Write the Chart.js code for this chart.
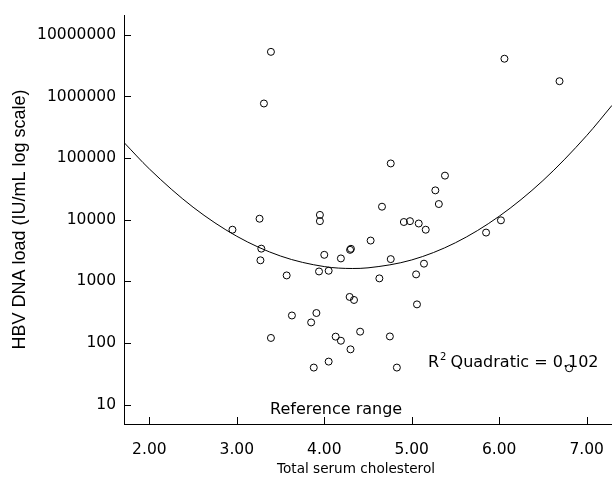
<!DOCTYPE html>
<html>
<head>
<meta charset="utf-8">
<script src="https://cdn.jsdelivr.net/npm/chart.js@4.4.1/dist/chart.umd.min.js"></script>
<style>
  html, body { margin: 0; padding: 0; background: #fff; }
  #wrap { width: 612px; height: 481px; }
</style>
</head>
<body>
<div id="wrap"><canvas id="chart" width="612" height="481"></canvas></div>
<script>
// one entry per patient: total serum cholesterol and HBV DNA load (IU/mL)
var cholesterol = [3.39, 3.31, 6.06, 6.69, 4.76, 5.38, 5.27, 5.31, 4.66, 2.95,
                   3.26, 3.95, 3.95, 3.28, 3.27, 3.57, 4.00, 4.19, 4.295, 4.305,
                   3.94, 4.05, 4.29, 4.34, 3.63, 3.91, 3.85, 3.39, 4.13, 4.19,
                   4.30, 4.05, 3.88, 4.91, 4.98, 5.08, 5.16, 6.02, 5.85, 4.53,
                   4.76, 5.14, 4.63, 5.05, 5.06, 4.41, 4.75, 4.83, 6.80];
var dnaLoad = [5300000, 770000, 4100000, 1770000, 82000, 52000, 30000, 18000, 16300, 6900,
               10400, 12000, 9500, 3400, 2200, 1250, 2700, 2360, 3250, 3380,
               1450, 1490, 560, 500, 280, 307, 216, 121, 127, 109,
               79, 50, 40, 9200, 9500, 8700, 6900, 9800, 6200, 4600,
               2300, 1940, 1120, 1300, 424, 153, 128, 40, 39];

// quadratic fit curve
var fitX = [1.71, 2.0, 2.5, 3.0, 3.5, 4.0, 4.32, 4.5, 5.0, 5.5, 6.0, 6.5, 7.0, 7.29];
var fitY = [179500, 66800, 16000, 5400, 2580, 1740, 1620, 1660, 2230, 4240, 11400, 43200, 231700, 718000];

var xTicks = [2, 3, 4, 5, 6, 7];
var yTicks = [10, 100, 1000, 10000, 100000, 1000000, 10000000];

var xTitle = 'Total serum cholesterol';
var yTitle = 'HBV DNA load (IU/mL log scale)';
var refLabel = 'Reference range';
var fitLabel = ['R', '2', ' Quadratic = 0.102'];

var points = cholesterol.map(function (c, i) { return {x: c, y: dnaLoad[i]}; });
var curve = fitX.map(function (c, i) { return {x: c, y: fitY[i]}; });

// tick marks drawn pointing into the plot, like the original
var innerTicks = {
    id: 'innerTicks',
    afterDraw: function (chart) {
        var ctx = chart.ctx, area = chart.chartArea;
        var xs = chart.scales.x, ys = chart.scales.y;
        ctx.save();
        ctx.strokeStyle = '#000';
        ctx.lineWidth = 1;
        ctx.beginPath();
        xs.ticks.forEach(function (t) {
            var px = Math.round(xs.getPixelForValue(t.value)) + 0.5;
            ctx.moveTo(px, area.bottom);
            ctx.lineTo(px, area.bottom - 7);
        });
        ys.ticks.forEach(function (t) {
            var py = Math.round(ys.getPixelForValue(t.value)) + 0.5;
            ctx.moveTo(area.left, py);
            ctx.lineTo(area.left + 7, py);
        });
        ctx.stroke();
        ctx.restore();
    }
};

// text notes: x title, reference range, R squared
var notes = {
    id: 'notes',
    afterDraw: function (chart) {
        var ctx = chart.ctx, area = chart.chartArea;
        ctx.save();
        ctx.fillStyle = '#000';
        ctx.textBaseline = 'alphabetic';
        ctx.textAlign = 'left';

        ctx.font = '16px "DejaVu Sans"';
        ctx.fillText(refLabel, area.left + 146, area.bottom - 10);

        var x = area.left + 304, y = area.bottom - 57;
        ctx.fillText(fitLabel[0], x, y);
        x += ctx.measureText(fitLabel[0]).width + 1;
        ctx.font = '10px "DejaVu Sans"';
        ctx.fillText(fitLabel[1], x, y - 7);
        x += ctx.measureText(fitLabel[1]).width - 1;
        ctx.font = '16px "DejaVu Sans"';
        ctx.fillText(fitLabel[2], x, y);

        ctx.font = '13.6px "DejaVu Sans"';
        ctx.textAlign = 'center';
        ctx.textBaseline = 'middle';
        ctx.fillText(xTitle, area.left + 232, 469);
        ctx.restore();
    }
};

var ctx = document.getElementById('chart').getContext('2d');
new Chart(ctx, {
    type: 'scatter',
    data: {
        datasets: [{
            label: 'patients',
            data: points,
            pointRadius: 3.5,
            pointBorderWidth: 1,
            borderColor: '#000',
            backgroundColor: 'rgba(255,255,255,0)',
            pointHoverRadius: 3.5
        }, {
            type: 'line',
            label: 'quadratic fit',
            data: curve,
            borderColor: '#000',
            borderWidth: 1,
            pointRadius: 0,
            fill: false,
            cubicInterpolationMode: 'monotone'
        }]
    },
    options: {
        responsive: false,
        animation: false,
        devicePixelRatio: 1,
        layout: {autoPadding: false, padding: {left: 0, top: 15, right: 0, bottom: 0}},
        plugins: {
            legend: {display: false},
            tooltip: {enabled: false}
        },
        scales: {
            x: {
                type: 'linear',
                min: 1.71,
                max: 7.29,
                afterBuildTicks: function (scale) {
                    scale.ticks = xTicks.map(function (v) { return {value: v}; });
                },
                afterFit: function (scale) {
                    scale.height = 57;
                    scale.paddingLeft = 0;
                    scale.paddingRight = 0;
                },
                grid: {display: false, drawTicks: false},
                border: {display: true, color: '#000', width: 1},
                ticks: {
                    color: '#000',
                    padding: 17,
                    maxRotation: 0,
                    font: {family: 'DejaVu Sans', size: 15.5},
                    callback: function (v) { return Number(v).toFixed(2); }
                }
            },
            y: {
                type: 'logarithmic',
                min: 4.86,
                max: 21000000,
                afterBuildTicks: function (scale) {
                    scale.ticks = yTicks.map(function (v) { return {value: v}; });
                },
                afterFit: function (scale) {
                    scale.width = 124;
                    scale.paddingTop = 0;
                    scale.paddingBottom = 0;
                },
                grid: {display: false, drawTicks: false},
                border: {display: true, color: '#000', width: 1},
                title: {
                    display: true,
                    text: yTitle,
                    color: '#000',
                    padding: {top: 9, bottom: 0},
                    font: {family: 'Liberation Sans', size: 18, weight: 'normal'}
                },
                ticks: {
                    color: '#000',
                    padding: 8,
                    font: {family: 'DejaVu Sans', size: 15.5},
                    callback: function (v) { return String(v); }
                }
            }
        }
    },
    plugins: [innerTicks, notes]
});
</script>
</body>
</html>
